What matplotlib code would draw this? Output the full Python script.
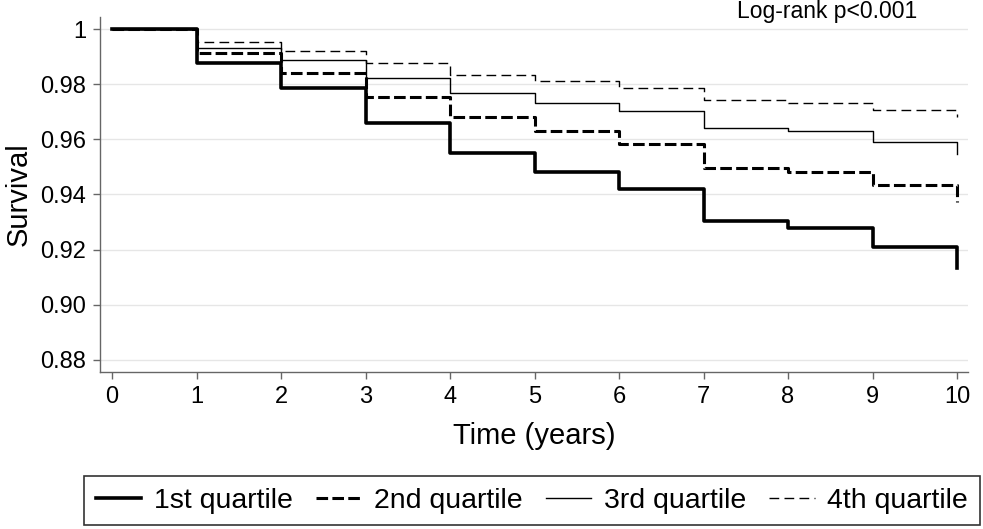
import matplotlib
matplotlib.use("Agg")
import matplotlib.pyplot as plt

plt.rcParams['font.family'] = ['Liberation Sans', 'DejaVu Sans']

years = [0, 1, 2, 3, 4, 5, 6, 7, 8, 9, 10]
q1 = [1.0, 0.9877, 0.9786, 0.9660, 0.9550, 0.9483, 0.9421, 0.9305, 0.9278, 0.9210, 0.9132]
q2 = [1.0, 0.9912, 0.9842, 0.9752, 0.9680, 0.9630, 0.9583, 0.9497, 0.9480, 0.9434, 0.9373]
q3 = [1.0, 0.9932, 0.9886, 0.9823, 0.9769, 0.9733, 0.9702, 0.9640, 0.9629, 0.9589, 0.9545]
q4 = [1.0, 0.9954, 0.9920, 0.9876, 0.9835, 0.9810, 0.9786, 0.9742, 0.9731, 0.9706, 0.9682]
labels = ["1st quartile", "2nd quartile", "3rd quartile", "4th quartile"]
yticks = [0.88, 0.90, 0.92, 0.94, 0.96, 0.98, 1.0]
ytick_labels = ["0.88", "0.90", "0.92", "0.94", "0.96", "0.98", "1"]

fig = plt.figure(figsize=(9.83, 5.29), dpi=100)
ax = fig.add_axes([100/983, 1-372/529, (968-100)/983, (372-17)/529])

styles = [
    dict(color='black', lw=2.6, ls='-'),
    dict(color='black', lw=2.2, ls=(0, (3.8, 1.4))),
    dict(color='black', lw=1.0, ls='-'),
    dict(color='black', lw=1.0, ls=(0, (7, 3.8))),
]
series = [q1, q2, q3, q4]
handles = [None]*4
for i in [3, 2, 1, 0]:
    h, = ax.step(years, series[i], where='post', label=labels[i], **styles[i])
    handles[i] = h

ax.set_xlim(-0.142, 10.13)
ax.set_ylim(0.8756, 1.00436)
ax.set_yticks(yticks)
ax.set_yticklabels(ytick_labels)
ax.set_xticks(years)
ax.set_xticklabels([str(y) for y in years])
ax.grid(axis='y', color='#e6e6e6', lw=1.0)
ax.set_axisbelow(True)
for s in ['top', 'right']:
    ax.spines[s].set_visible(False)
for s in ['left', 'bottom']:
    ax.spines[s].set_color('#666666')
    ax.spines[s].set_linewidth(1.0)
ax.tick_params(axis='both', colors='#666666', length=5, width=1.0, labelsize=17,
               labelcolor='black', pad=5)
ax.set_xlabel("Time (years)", fontsize=21, labelpad=10)
ax.set_ylabel("Survival", fontsize=21, labelpad=5)

fig.text(827/983, 1-18/529, "Log-rank p<0.001", fontsize=16.5,
         ha='center', va='baseline')

leg = fig.legend(handles=handles, labels=labels, loc='center',
                 bbox_to_anchor=(532/983, 1-500.5/529), ncol=4, fontsize=20.5,
                 frameon=True, fancybox=False, edgecolor='black',
                 handlelength=1.6, columnspacing=0.8, handletextpad=0.45,
                 borderpad=0.4)
leg.get_frame().set_linewidth(1.2)

fig.savefig("out.png", dpi=100)
